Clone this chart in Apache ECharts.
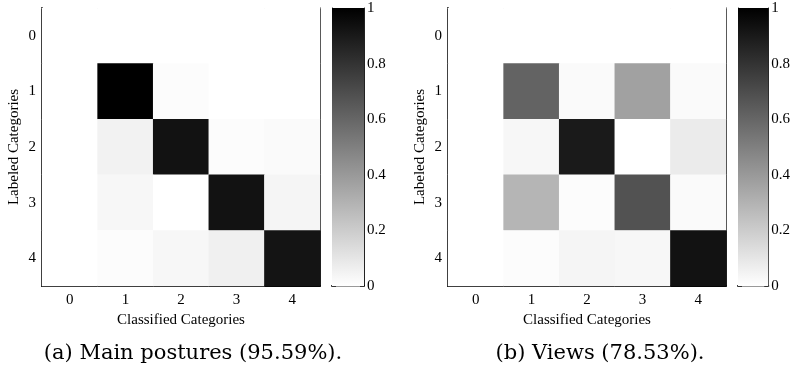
<!DOCTYPE html>
<html>
<head>
<meta charset="utf-8">
<script src="https://cdn.jsdelivr.net/npm/echarts@6/dist/echarts.min.js"></script>
<style>
  html, body { margin: 0; padding: 0; background: #fff; }
  #chart { width: 793px; height: 370px; }
</style>
</head>
<body>
<div id="chart"></div>
<script>
// categories (both axes)
const categories = ['0', '1', '2', '3', '4'];
// colorbar ticks
const cbarTicks = [0, 0.2, 0.4, 0.6, 0.8, 1];
// confusion matrices: rows = labeled, cols = classified
const postures = [
  [0, 0, 0, 0, 0],
  [0, 1.0, 0.01, 0, 0],
  [0, 0.05, 0.93, 0.01, 0.02],
  [0, 0.03, 0, 0.93, 0.04],
  [0, 0.01, 0.03, 0.06, 0.92]
];
const views = [
  [0, 0, 0, 0, 0],
  [0, 0.61, 0.02, 0.37, 0.02],
  [0, 0.03, 0.9, 0, 0.08],
  [0, 0.29, 0.01, 0.68, 0.02],
  [0, 0.01, 0.04, 0.03, 0.93]
];
const captions = ['(a) Main postures (95.59%).', '(b) Views (78.53%).'];

const FONT = 'Liberation Serif';
const tickStyle = { show: true, inside: true, length: 4, lineStyle: { color: '#333', width: 1 } };

function toCells(m) {
  let out = [];
  m.forEach((row, r) => row.forEach((v, c) => out.push([c, r, v])));
  return out;
}

let grids = [];
let xAxes = [];
let yAxes = [];
let series = [];

// one panel = heatmap grid + colorbar grid
function addPanel(left, cbLeft, matrix) {
  let g = grids.length;
  grids.push({ left: left, top: 8, width: 278, height: 278 });
  grids.push({ left: cbLeft, top: 8, width: 32, height: 278 });

  // heatmap axes
  let hx = xAxes.length;
  xAxes.push({
    type: 'category', gridIndex: g, data: categories, position: 'bottom',
    name: 'Classified Categories', nameLocation: 'middle', nameGap: 25,
    nameTextStyle: { fontFamily: FONT, fontSize: 15, color: '#000' },
    axisLine: { lineStyle: { color: '#000', width: 2 } },
    axisTick: Object.assign({ alignWithLabel: true }, tickStyle),
    axisLabel: { fontFamily: FONT, fontSize: 15, color: '#000', margin: 7 },
    splitLine: { show: false }
  });
  xAxes.push({
    type: 'category', gridIndex: g, data: categories, position: 'top',
    axisLine: { lineStyle: { color: '#999', width: 1 } },
    axisTick: Object.assign({ alignWithLabel: true }, tickStyle),
    axisLabel: { show: false }
  });
  let hy = yAxes.length;
  yAxes.push({
    type: 'category', gridIndex: g, data: categories, inverse: true, position: 'left',
    name: 'Labeled Categories', nameLocation: 'middle', nameGap: 20,
    nameTextStyle: { fontFamily: FONT, fontSize: 15, color: '#000' },
    axisLine: { lineStyle: { color: '#000', width: 2 } },
    axisTick: Object.assign({ alignWithLabel: true }, tickStyle),
    axisLabel: { fontFamily: FONT, fontSize: 15, color: '#000', margin: 6 }
  });
  yAxes.push({
    type: 'category', gridIndex: g, data: categories, inverse: true, position: 'right',
    axisLine: { lineStyle: { color: '#222', width: 1 } },
    axisTick: Object.assign({ alignWithLabel: true }, tickStyle),
    axisLabel: { show: false }
  });
  series.push({
    type: 'heatmap', xAxisIndex: hx, yAxisIndex: hy,
    data: toCells(matrix), silent: true
  });

  // colorbar axes
  let cx = xAxes.length;
  xAxes.push({
    type: 'category', gridIndex: g + 1, data: ['c'], position: 'bottom',
    axisLine: { lineStyle: { color: '#000', width: 2 } },
    axisTick: { show: false }, axisLabel: { show: false }
  });
  xAxes.push({
    type: 'category', gridIndex: g + 1, data: ['c'], position: 'top',
    axisLine: { lineStyle: { color: '#999', width: 1 } },
    axisTick: { show: false }, axisLabel: { show: false }
  });
  yAxes.push({
    type: 'value', gridIndex: g + 1, min: 0, max: 1, interval: 0.2, position: 'left',
    axisLine: { show: true, lineStyle: { color: '#222', width: 1 } },
    axisTick: tickStyle, axisLabel: { show: false }, splitLine: { show: false }
  });
  let cy = yAxes.length;
  yAxes.push({
    type: 'value', gridIndex: g + 1, min: 0, max: 1, interval: 0.2, position: 'right',
    axisLine: { show: true, lineStyle: { color: '#222', width: 1 } },
    axisTick: tickStyle,
    axisLabel: { fontFamily: FONT, fontSize: 15, color: '#000', margin: 3 },
    splitLine: { show: false }
  });
  series.push({
    type: 'bar', xAxisIndex: cx, yAxisIndex: cy, data: [cbarTicks[cbarTicks.length - 1]],
    barWidth: '100%', silent: true,
    itemStyle: {
      color: new echarts.graphic.LinearGradient(0, 0, 0, 1, [
        { offset: 0, color: '#000' }, { offset: 1, color: '#fff' }
      ])
    }
  });
}

addPanel(42, 332, postures);
addPanel(448, 738, views);

let chart = echarts.init(document.getElementById('chart'));
chart.setOption({
  animation: false,
  backgroundColor: '#fff',
  grid: grids,
  xAxis: xAxes,
  yAxis: yAxes,
  visualMap: {
    show: false, type: 'continuous', min: 0, max: 1,
    seriesIndex: [0, 2],
    inRange: { color: ['#ffffff', '#000000'] }
  },
  series: series,
  // sub-figure captions
  graphic: [
    { type: 'text', x: 193, y: 354, style: { text: captions[0], font: '21px "DejaVu Serif"', fill: '#000', align: 'center', verticalAlign: 'middle' } },
    { type: 'text', x: 600, y: 354, style: { text: captions[1], font: '21px "DejaVu Serif"', fill: '#000', align: 'center', verticalAlign: 'middle' } }
  ]
});
</script>
</body>
</html>
